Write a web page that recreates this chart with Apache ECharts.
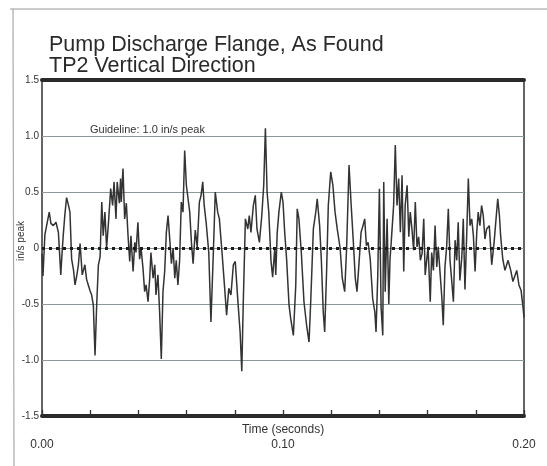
<!DOCTYPE html>
<html>
<head>
<meta charset="utf-8">
<script src="https://cdn.jsdelivr.net/npm/echarts@6/dist/echarts.min.js"></script>
<style>
  html, body { margin: 0; padding: 0; background: #fff; }
  #chart { width: 547px; height: 466px; }
</style>
</head>
<body>
<div id="chart"></div>
<script>
// waveform: time (s) and velocity (in/s)
const times = [
  0.0000, 0.0004, 0.0012, 0.0021, 0.0030, 0.0037, 0.0047, 0.0058, 0.0068, 0.0078,
  0.0083, 0.0088, 0.0095, 0.0102, 0.0110, 0.0116, 0.0123, 0.0131, 0.0137, 0.0144,
  0.0151, 0.0158, 0.0167, 0.0178, 0.0185, 0.0192, 0.0199, 0.0206, 0.0213, 0.0220,
  0.0227, 0.0234, 0.0241, 0.0248, 0.0254, 0.0261, 0.0268, 0.0275, 0.0285, 0.0293,
  0.0299, 0.0307, 0.0312, 0.0321,
  0.0326, 0.0329, 0.0336, 0.0343, 0.0350, 0.0357, 0.0364, 0.0369, 0.0378, 0.0385,
  0.0390, 0.0398, 0.0405, 0.0411, 0.0419, 0.0426, 0.0432, 0.0440, 0.0447, 0.0452,
  0.0461, 0.0468, 0.0473, 0.0481, 0.0488, 0.0495, 0.0502, 0.0509, 0.0516, 0.0523,
  0.0530, 0.0537, 0.0544, 0.0551, 0.0557, 0.0564, 0.0571, 0.0578, 0.0585, 0.0592,
  0.0599, 0.0606, 0.0613, 0.0620, 0.0627, 0.0636, 0.0644,
  0.0653, 0.0660, 0.0667, 0.0673, 0.0681, 0.0692, 0.0701, 0.0711, 0.0719, 0.0729,
  0.0736, 0.0747, 0.0756, 0.0766, 0.0775, 0.0784, 0.0794, 0.0802, 0.0812, 0.0822,
  0.0829, 0.0835, 0.0844, 0.0854, 0.0860, 0.0867, 0.0877, 0.0885, 0.0892, 0.0902,
  0.0912, 0.0920, 0.0927, 0.0934, 0.0941, 0.0950, 0.0957, 0.0966,
  0.0970, 0.0976, 0.0983, 0.0993, 0.1000, 0.1007, 0.1015, 0.1025, 0.1032, 0.1043,
  0.1053, 0.1059, 0.1066, 0.1076, 0.1087, 0.1098, 0.1108, 0.1115, 0.1126, 0.1136,
  0.1142, 0.1152, 0.1159, 0.1167, 0.1173, 0.1181, 0.1188, 0.1198, 0.1207, 0.1216,
  0.1225, 0.1237, 0.1246, 0.1256, 0.1264, 0.1274, 0.1283, 0.1292,
  0.1300, 0.1307, 0.1314, 0.1324, 0.1332, 0.1339, 0.1346, 0.1353, 0.1362, 0.1372,
  0.1381, 0.1386, 0.1393, 0.1400, 0.1407, 0.1414, 0.1418, 0.1424, 0.1432, 0.1439,
  0.1444, 0.1449, 0.1459, 0.1466, 0.1473, 0.1480, 0.1487, 0.1494, 0.1501, 0.1507,
  0.1515, 0.1522, 0.1528, 0.1535, 0.1542, 0.1549, 0.1556, 0.1563, 0.1570, 0.1577,
  0.1584, 0.1590, 0.1602, 0.1611,
  0.1617, 0.1624, 0.1631, 0.1638, 0.1644, 0.1651, 0.1659, 0.1665, 0.1672, 0.1679,
  0.1686, 0.1693, 0.1700, 0.1707, 0.1714, 0.1721, 0.1727, 0.1734, 0.1742, 0.1748,
  0.1755, 0.1762, 0.1769, 0.1776, 0.1783, 0.1790, 0.1797, 0.1804, 0.1810, 0.1817,
  0.1824, 0.1831, 0.1838, 0.1845, 0.1856, 0.1866, 0.1876, 0.1884, 0.1891, 0.1898,
  0.1903, 0.1912, 0.1921, 0.1934, 0.1945, 0.1954, 0.1970, 0.1979, 0.1988, 0.1996,
  0.2000
];
const velocity = [
  -0.05, -0.25, 0.12, 0.22, 0.32, 0.22, 0.20, 0.23, 0.14, -0.24,
  -0.05, 0.11, 0.30, 0.45, 0.38, 0.32, -0.10, -0.20, -0.33, -0.25,
  -0.15, 0.04, -0.24, -0.15, -0.28, -0.33, -0.38, -0.42, -0.51, -0.96,
  -0.50, -0.15, -0.08, 0.41, 0.11, 0.32, 0.00, 0.20, 0.53, 0.38,
  0.59, 0.26, 0.59, 0.40,
  0.62, 0.41, 0.71, 0.26, 0.40, 0.11, -0.12, 0.11, -0.21, 0.05,
  -0.04, 0.23, -0.10, 0.00, -0.18, -0.39, -0.33, -0.48, -0.27, -0.04,
  -0.27, -0.15, -0.42, -0.24, -0.57, -0.99, -0.39, -0.21, 0.14, 0.29,
  0.08, -0.14, 0.00, -0.27, -0.11, -0.33, -0.11, 0.41, 0.32, 0.87,
  0.56, 0.44, 0.32, 0.05, -0.14, 0.16, 0.01,
  0.41, 0.47, 0.59, 0.38, 0.23, -0.04, -0.66, -0.04, 0.50, 0.32,
  0.26, -0.04, -0.30, -0.60, -0.36, -0.42, -0.15, -0.12, -0.45, -0.75,
  -1.10, -0.50, 0.26, 0.17, 0.29, 0.14, 0.38, 0.47, 0.17, 0.05,
  0.29, 0.56, 1.07, 0.50, 0.32, -0.11, -0.26, 0.00,
  -0.24, 0.14, 0.32, 0.50, 0.41, 0.14, -0.10, -0.51, -0.63, -0.78,
  -0.33, 0.35, 0.26, -0.04, -0.48, -0.69, -0.84, -0.48, 0.17, 0.32,
  0.44, 0.20, -0.10, -0.57, -0.75, -0.20, 0.38, 0.68, 0.56, 0.32,
  0.17, 0.00, -0.27, -0.39, 0.00, 0.74, 0.38, 0.05,
  -0.27, -0.39, -0.18, 0.14, 0.20, 0.26, 0.02, 0.05, -0.10, -0.45,
  -0.57, -0.75, -0.26, 0.53, -0.53, -0.78, 0.59, -0.39, 0.26, -0.50,
  -0.10, 0.05, 0.38, 0.92, 0.38, 0.62, 0.14, 0.65, -0.21, 0.38,
  0.56, 0.10, 0.32, 0.17, -0.02, 0.41, 0.01, 0.10, -0.11, -0.05,
  0.26, -0.24, 0.01, -0.48,
  -0.04, -0.20, 0.20, -0.17, 0.01, -0.20, -0.44, -0.69, -0.17, 0.01,
  0.35, -0.11, -0.29, -0.48, 0.07, -0.11, 0.23, -0.29, -0.08, 0.26,
  -0.37, 0.10, 0.62, 0.20, 0.26, 0.11, -0.21, 0.14, 0.32, 0.20,
  0.38, 0.29, 0.08, 0.17, 0.20, -0.15, 0.05, 0.26, 0.44, 0.29,
  0.11, -0.10, -0.20, -0.11, -0.20, -0.30, -0.20, -0.33, -0.38, -0.53,
  -0.62
];
const xTickLabels = ['0.00', '0.10', '0.20'];
const yTickLabels = { '-1.5': '-1.5', '-1.0': '-1.0', '-0.5': '-0.5', '0.0': '0', '0.5': '0.5', '1.0': '1.0', '1.5': '1.5' };
const guideline = 1.0;

const font = 'Liberation Sans, Arial, sans-serif';
const chart = echarts.init(document.getElementById('chart'));

chart.setOption({
  animation: false,
  backgroundColor: '#fff',
  title: {
    text: 'Pump Discharge Flange, As Found\nTP2 Vertical Direction',
    left: 44,
    top: 30,
    textStyle: { fontFamily: font, fontSize: 21.5, fontWeight: 'normal', color: '#2a2a2a', lineHeight: 21 }
  },
  grid: {
    left: 42, right: 23, top: 80, bottom: 50, outerBoundsMode: 'none',
    show: true, borderColor: '#333', borderWidth: 1.5, backgroundColor: 'transparent'
  },
  xAxis: [{
    type: 'value', min: 0, max: 0.2, interval: 0.02,
    name: 'Time (seconds)', nameLocation: 'middle', nameGap: 8, nameMoveOverlap: false,
    nameTextStyle: { fontFamily: font, fontSize: 12, color: '#333' },
    axisLine: { onZero: false, lineStyle: { color: '#2a2a2a', width: 4 } },
    axisTick: { inside: true, length: 6, lineStyle: { color: '#333', width: 1.3 } },
    axisLabel: {
      margin: 23, fontFamily: font, fontSize: 12, color: '#333',
      formatter: v => { const k = v.toFixed(2); return xTickLabels.includes(k) ? k : ''; }
    },
    splitLine: { show: false }
  }, {
    type: 'value', min: 0, max: 0.2, position: 'top',
    axisLine: { onZero: false, lineStyle: { color: '#2a2a2a', width: 4 } },
    axisTick: { show: false }, axisLabel: { show: false }, splitLine: { show: false }
  }],
  yAxis: {
    type: 'value', min: -1.5, max: 1.5, interval: 0.5,
    name: 'in/s peak', nameLocation: 'middle', nameGap: 16, nameMoveOverlap: false,
    nameTextStyle: { fontFamily: font, fontSize: 10, color: '#333', padding: [0, 0, 0, 14] },
    axisLine: { show: false }, axisTick: { show: false },
    axisLabel: { margin: 3, fontFamily: font, fontSize: 10, color: '#333', formatter: v => yTickLabels[v.toFixed(1)] || '' },
    splitLine: { lineStyle: { color: '#8a989b', width: 1 } }
  },
  graphic: [
    { type: 'line', shape: { x1: 10, y1: 9, x2: 547, y2: 9 }, style: { stroke: '#999', lineWidth: 1.2 } },
    { type: 'line', shape: { x1: 13, y1: 9, x2: 14, y2: 466 }, style: { stroke: '#aaa', lineWidth: 1.2 } },
    { type: 'text', left: 90, top: 124, style: { text: 'Guideline: ' + guideline.toFixed(1) + ' in/s peak', font: '11px ' + font, fill: '#333' } }
  ],
  series: [{
    type: 'line',
    data: velocity.map((v, i) => [times[i], v]),
    showSymbol: false,
    lineStyle: { color: '#333', width: 1.5 },
    markLine: {
      silent: true, symbol: 'none', label: { show: false },
      lineStyle: { color: '#1a1a1a', width: 3, type: [3, 4] },
      data: [{ yAxis: 0 }]
    }
  }]
});
</script>
</body>
</html>
